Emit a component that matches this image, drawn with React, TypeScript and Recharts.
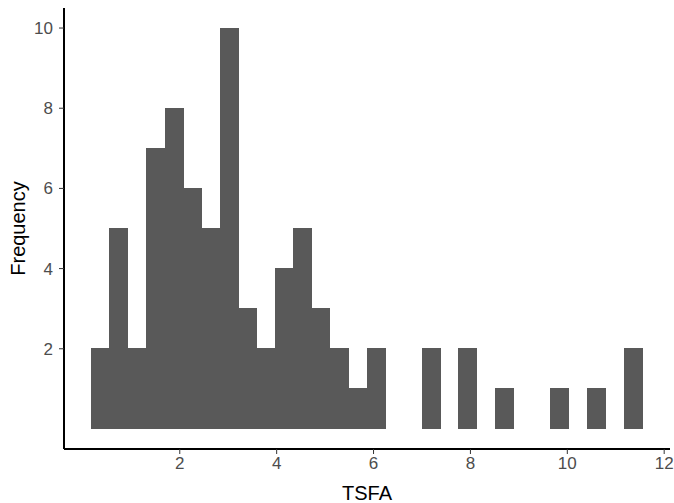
import { BarChart, Bar, XAxis, YAxis } from 'recharts';

// bin centers (TSFA), 30 bins
const binCenters = [
  0.370, 0.749, 1.128, 1.507, 1.886, 2.265, 2.644, 3.023, 3.402, 3.781,
  4.160, 4.539, 4.918, 5.297, 5.676, 6.055, 6.434, 6.813, 7.192, 7.571,
  7.950, 8.329, 8.708, 9.087, 9.466, 9.845, 10.224, 10.603, 10.982, 11.361,
];

const counts = [
  2, 5, 2, 7, 8, 6, 5, 10, 3, 2,
  4, 5, 3, 2, 1, 2, 0, 0, 2, 0,
  2, 0, 1, 0, 0, 1, 0, 1, 0, 2,
];

const xTicks = [2, 4, 6, 8, 10, 12];
const yTicks = [2, 4, 6, 8, 10];

const data = binCenters.map((x, i) => ({ x, count: counts[i] }));

const tickStyle = { fill: '#4d4d4d', fontSize: 17, fontFamily: 'Liberation Sans, Arial, sans-serif' };
const titleStyle = { fill: '#000', fontSize: 20, fontFamily: 'Liberation Sans, Arial, sans-serif' };

export default function App() {
  return (
    <div style={{ position: 'absolute', left: 0, top: 0, width: 674, height: 503, background: '#fff' }}>
      <BarChart
        width={674}
        height={503}
        data={data}
        margin={{ top: 8, right: 4, left: 0, bottom: 0 }}
        barCategoryGap={0}
        barGap={0}
      >
        <XAxis
          dataKey="x"
          type="number"
          domain={[-0.39, 12.12]}
          ticks={xTicks}
          allowDataOverflow
          height={54}
          tickSize={5}
          tickMargin={3}
          tick={tickStyle}
          tickLine={{ stroke: '#333', strokeWidth: 1 }}
          axisLine={{ stroke: '#000', strokeWidth: 2 }}
          label={{ value: 'TSFA', position: 'insideBottom', offset: 3, style: titleStyle }}
        />
        <YAxis
          type="number"
          domain={[-0.5, 10.5]}
          ticks={yTicks}
          allowDataOverflow
          width={64}
          tickSize={5}
          tickMargin={6}
          tick={tickStyle}
          tickLine={{ stroke: '#333', strokeWidth: 1 }}
          axisLine={{ stroke: '#000', strokeWidth: 2 }}
          label={{
            value: 'Frequency',
            angle: -90,
            position: 'insideLeft',
            offset: 18,
            style: { ...titleStyle, textAnchor: 'middle' },
          }}
        />
        <Bar
          dataKey="count"
          fill="#595959"
          stroke="#595959"
          strokeWidth={1}
          shapeRendering="crispEdges"
          isAnimationActive={false}
        />
      </BarChart>
    </div>
  );
}
